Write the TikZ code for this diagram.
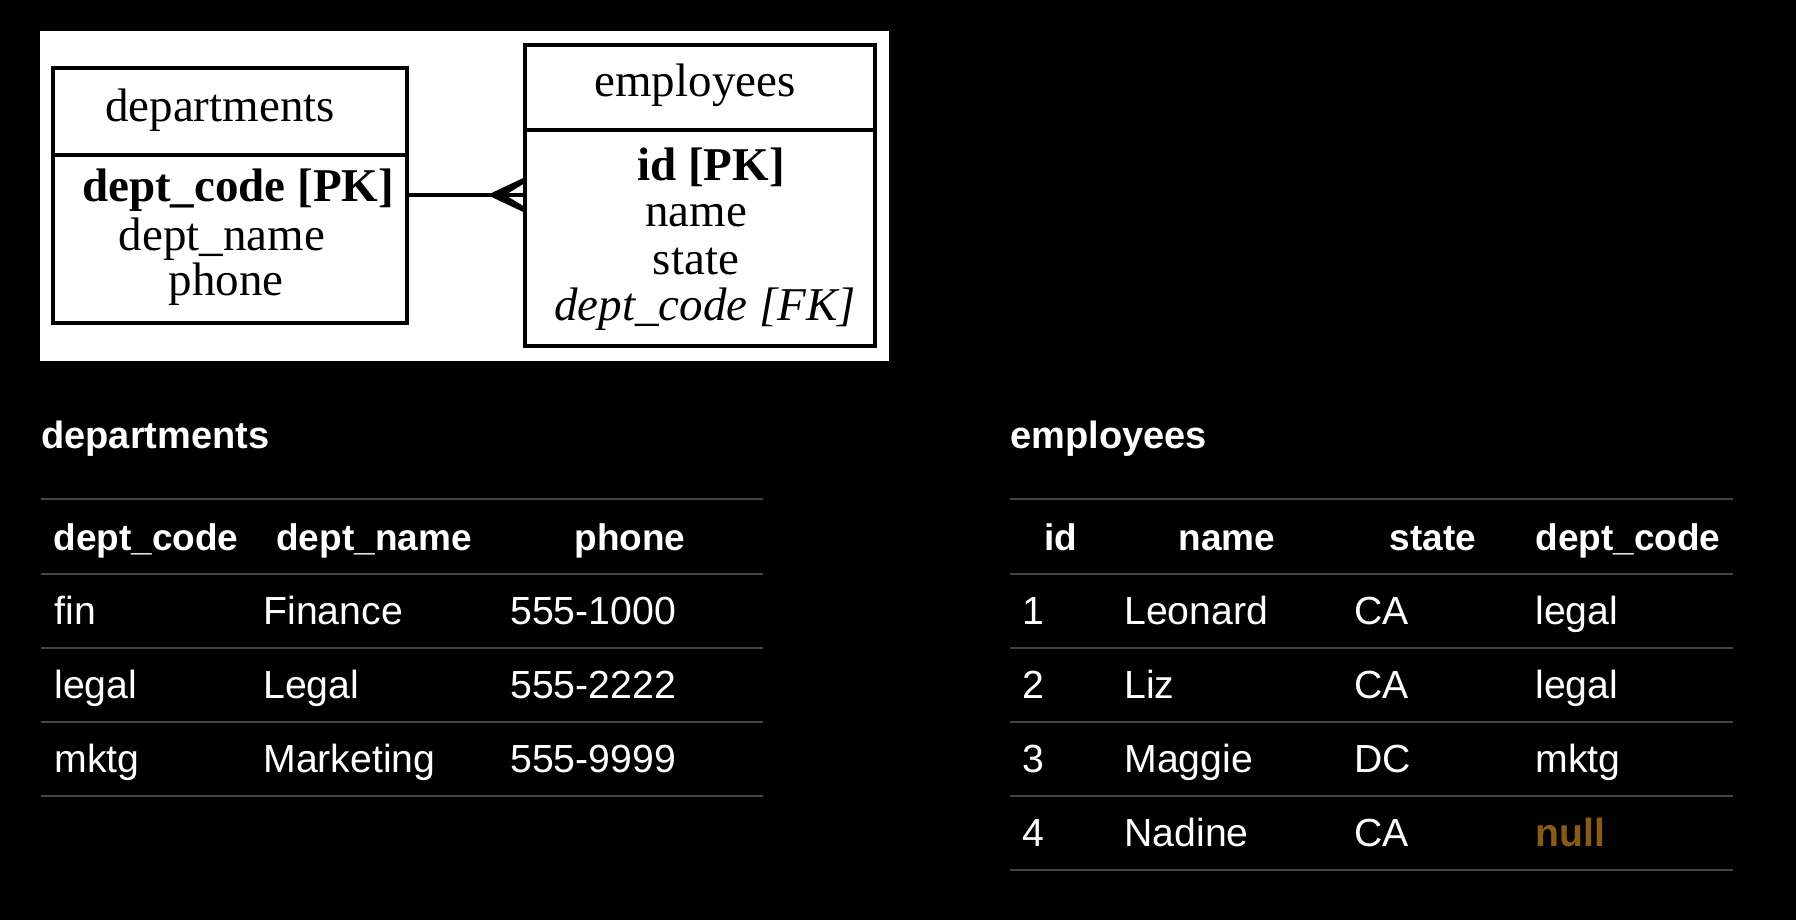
\documentclass[tikz,border=0pt]{standalone}
\usepackage{fontspec}
\setmainfont{Liberation Serif}
\newfontfamily\tabfont{Liberation Sans}
\definecolor{rulegray}{HTML}{444444}
\definecolor{nullbrown}{HTML}{8B5A14}
\begin{document}
\begin{tikzpicture}[x=0.5pt,y=-0.5pt,
  erd/.style={font=\fontsize{23.5}{26}\selectfont, anchor=base, inner sep=0pt, text=black},
  erbox/.style={draw=black, line width=1.7pt, inner sep=0pt},
  erline/.style={line width=1.7pt},
  thead/.style={font=\tabfont\bfseries\fontsize{18.5}{20}\selectfont, text=white, anchor=base, inner sep=0pt},
  tcell/.style={font=\tabfont\fontsize{19.6}{22}\selectfont, text=white, anchor=base west, inner sep=0pt},
  ttitle/.style={font=\tabfont\bfseries\fontsize{19}{21}\selectfont, text=white, anchor=base west, inner sep=0pt},
  trule/.style={draw=rulegray, line width=0.9pt}]
\useasboundingbox (0,0) rectangle (1796,920);
\fill[black] (0,0) rectangle (1796,920);
\fill[white] (40,31) rectangle (889,361);
% ER boxes
\node[erbox, minimum width=177pt, minimum height=127.5pt] (dep) at (230,195.5) {};
\node[erbox, minimum width=175pt, minimum height=150.5pt] (emp) at (700,195.5) {};
\draw[erline] (dep.west |- 0,155) -- (dep.east |- 0,155);
\draw[erline] (emp.west |- 0,130) -- (emp.east |- 0,130);
\node[erd] (dtitle) at (220,122) {departments};
\node[erd] (dpk) at (238,202) {\bfseries dept\_code [PK]};
\node[erd] (dname) at (222,250) {dept\_name};
\node[erd] (dphone) at (226,295) {phone};
\node[erd] (etitle) at (695,97) {employees};
\node[erd] (epk) at (711,181) {\bfseries id [PK]};
\node[erd] (ename) at (696,227) {name};
\node[erd] (estate) at (696,274) {state};
\node[erd] (efk) at (705,321) {\itshape dept\_code [FK]};
% connector with crow's foot
\draw[erline] (dep.east |- 0,195) -- (emp.west |- 0,195);
\fill[black, shift={(emp.west |- 0,195)}] (-36,0) -- (0,-17) -- (0,-11) -- (-18,0) -- (0,11) -- (0,17) -- cycle;
% departments table
\node[ttitle] (t1title) at (41,448) {departments};
\foreach \yy in {499,574,648,722,796} \draw[trule] (41,\yy) -- (763,\yy);
\node[thead] (d1h1) at (146,550) {dept\_code};
\node[thead] (d1h2) at (374,550) {dept\_name};
\node[thead] (d1h3) at (630,550) {phone};
\node[tcell] (d1r1c1) at (54,624) {fin};
\node[tcell] (d1r1c2) at (263,624) {Finance};
\node[tcell] (d1r1c3) at (510,624) {555-1000};
\node[tcell] (d1r2c1) at (54,698) {legal};
\node[tcell] (d1r2c2) at (263,698) {Legal};
\node[tcell] (d1r2c3) at (510,698) {555-2222};
\node[tcell] (d1r3c1) at (54,772) {mktg};
\node[tcell] (d1r3c2) at (263,772) {Marketing};
\node[tcell] (d1r3c3) at (510,772) {555-9999};
% employees table
\node[ttitle] (t2title) at (1010,448) {employees};
\foreach \yy in {499,574,648,722,796,870} \draw[trule] (1010,\yy) -- (1733,\yy);
\node[thead] (e1h1) at (1061,550) {id};
\node[thead] (e1h2) at (1227,550) {name};
\node[thead] (e1h3) at (1433,550) {state};
\node[thead] (e1h4) at (1628,550) {dept\_code};
\node[tcell] (e1r1c1) at (1022,624) {1};
\node[tcell] (e1r1c2) at (1124,624) {Leonard};
\node[tcell] (e1r1c3) at (1354,624) {CA};
\node[tcell] (e1r1c4) at (1535,624) {legal};
\node[tcell] (e1r2c1) at (1022,698) {2};
\node[tcell] (e1r2c2) at (1124,698) {Liz};
\node[tcell] (e1r2c3) at (1354,698) {CA};
\node[tcell] (e1r2c4) at (1535,698) {legal};
\node[tcell] (e1r3c1) at (1022,772) {3};
\node[tcell] (e1r3c2) at (1124,772) {Maggie};
\node[tcell] (e1r3c3) at (1354,772) {DC};
\node[tcell] (e1r3c4) at (1535,772) {mktg};
\node[tcell] (e1r4c1) at (1022,846) {4};
\node[tcell] (e1r4c2) at (1124,846) {Nadine};
\node[tcell] (e1r4c3) at (1354,846) {CA};
\node[tcell, text=nullbrown, font=\tabfont\bfseries\fontsize{19.6}{22}\selectfont] (e1r4c4) at (1535,846) {null};
\end{tikzpicture}
\end{document}
